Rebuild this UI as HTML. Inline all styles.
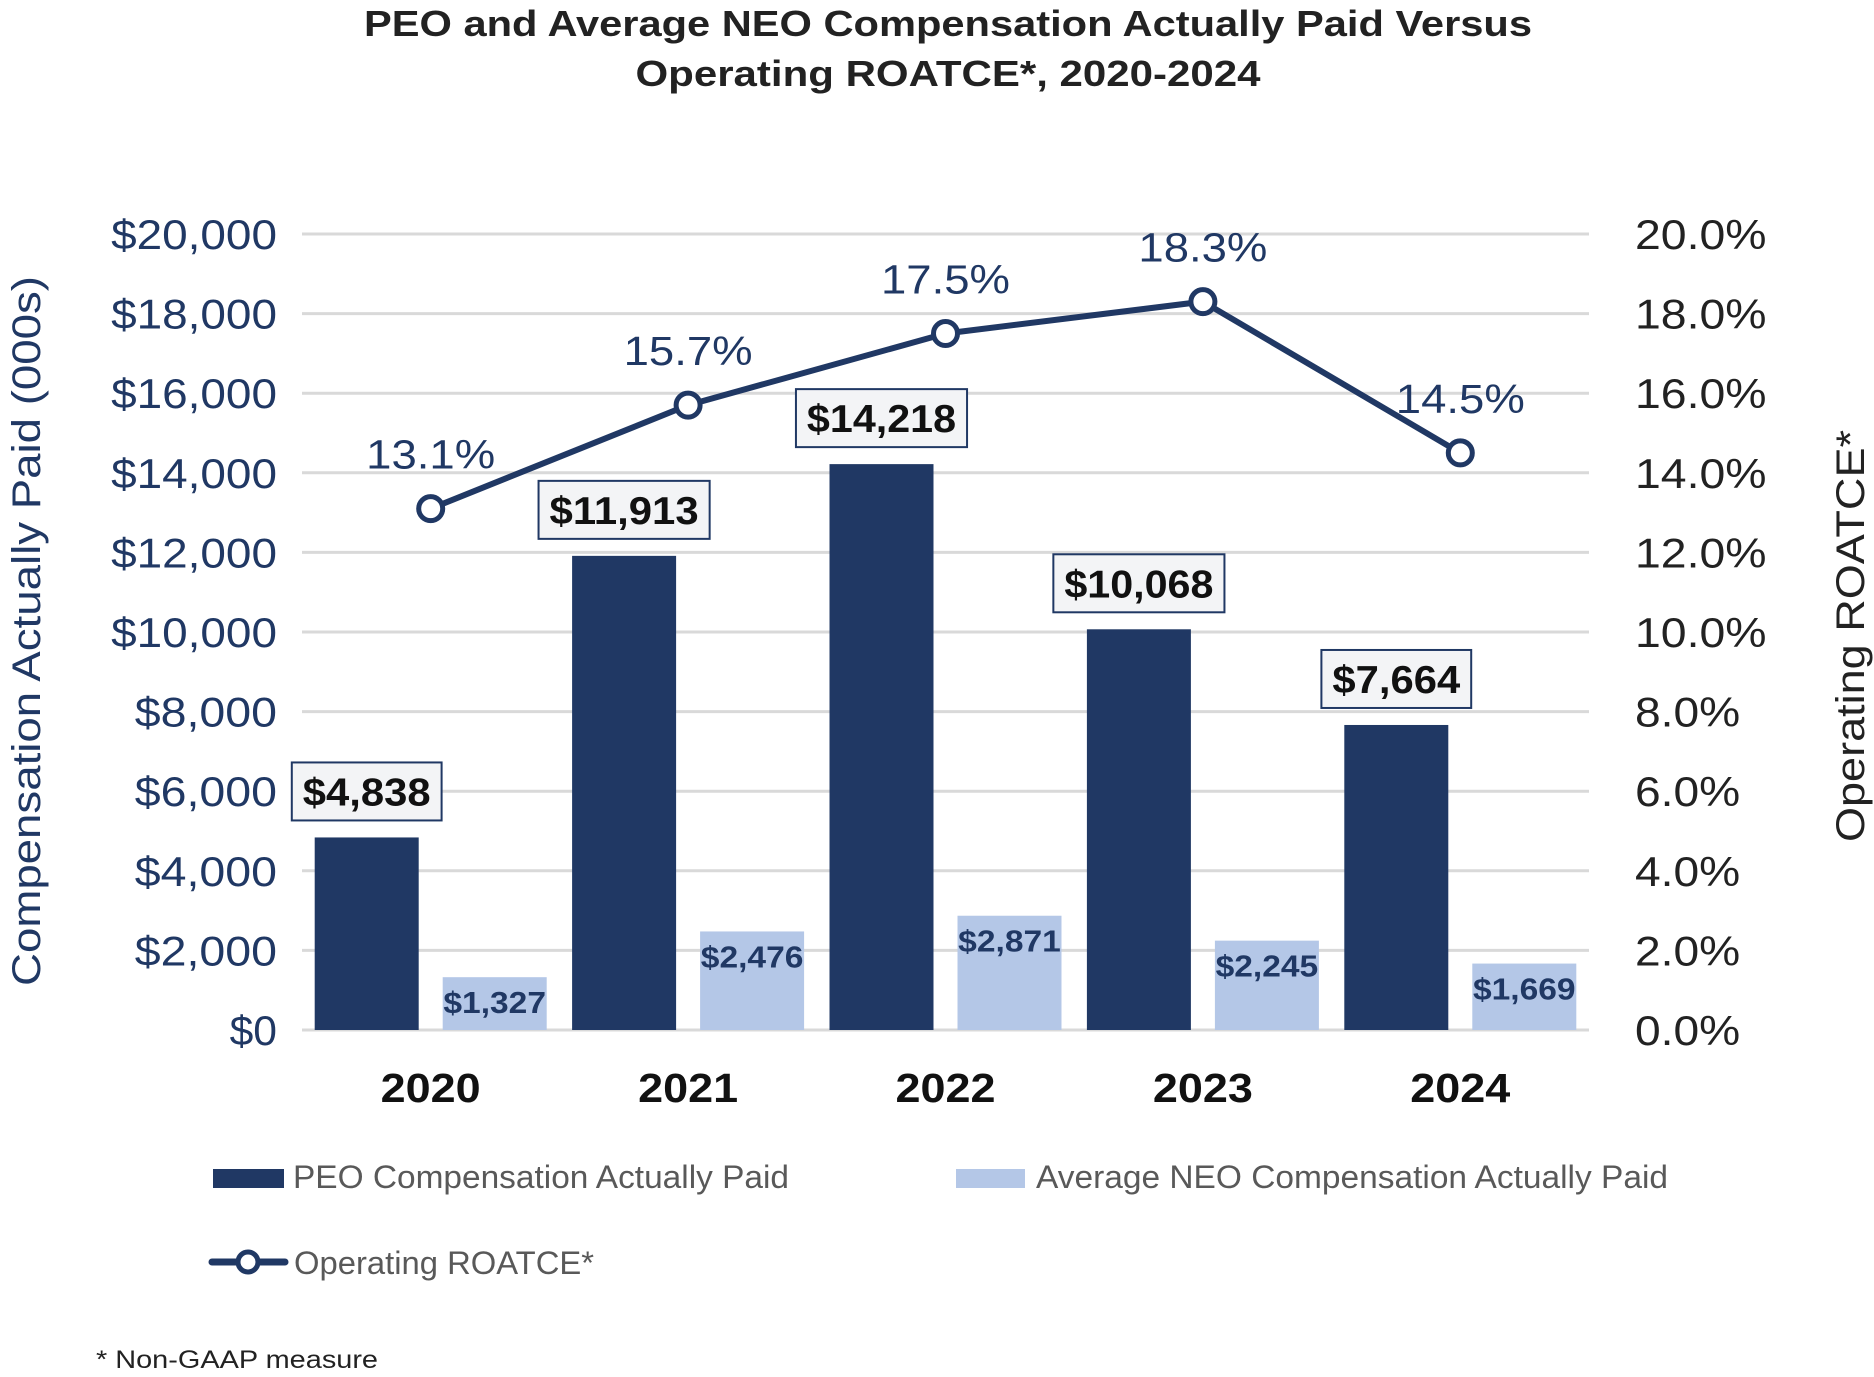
<!DOCTYPE html>
<html><head><meta charset="utf-8"><style>
html,body{margin:0;padding:0;background:#fff;}
svg{display:block;font-family:"Liberation Sans",Arial,sans-serif;}
</style></head><body>
<svg id="chart" width="1874" height="1377" viewBox="0 0 1874 1377" xmlns="http://www.w3.org/2000/svg">
<g>
<text x="948" y="36" text-anchor="middle" font-size="36" font-weight="bold" fill="#222" textLength="1168" lengthAdjust="spacingAndGlyphs">PEO and Average NEO Compensation Actually Paid Versus</text>
<text x="948" y="86" text-anchor="middle" font-size="36" font-weight="bold" fill="#222" textLength="625" lengthAdjust="spacingAndGlyphs">Operating ROATCE*, 2020-2024</text>
</g>
<g id="grid"></g>
<g id="yleft"></g>
<g id="yright"></g>
<g id="bars"></g>
<g id="line"></g>
<g id="xlab"></g>
<text transform="translate(40,631) rotate(-90)" text-anchor="middle" font-size="40" fill="#203864" textLength="710" lengthAdjust="spacingAndGlyphs">Compensation Actually Paid (000s)</text>
<text transform="translate(1864,636) rotate(-90)" text-anchor="middle" font-size="40" fill="#222" textLength="412" lengthAdjust="spacingAndGlyphs">Operating ROATCE*</text>
<g>
<g><rect x="213" y="1169" width="71" height="19" fill="#203864"/><text x="293" y="1188" font-size="32" fill="#595959" textLength="496" lengthAdjust="spacingAndGlyphs">PEO Compensation Actually Paid</text></g>
<g><rect x="956" y="1169" width="69" height="19" fill="#b4c7e7"/><text x="1036" y="1188" font-size="32" fill="#595959" textLength="632" lengthAdjust="spacingAndGlyphs">Average NEO Compensation Actually Paid</text></g>
<g><line x1="212" y1="1262" x2="285" y2="1262" stroke="#203864" stroke-width="7" stroke-linecap="round"/><circle cx="248" cy="1262" r="10" fill="#fff" stroke="#203864" stroke-width="5"/><text x="294" y="1274" font-size="32" fill="#595959" textLength="300" lengthAdjust="spacingAndGlyphs">Operating ROATCE*</text></g>
</g>
<text x="96" y="1368" font-size="25" fill="#222" textLength="282" lengthAdjust="spacingAndGlyphs">* Non-GAAP measure</text>
</svg>
<script>
const categories=["2020","2021","2022","2023","2024"];
const peoValues=[4838,11913,14218,10068,7664];
const neoValues=[1327,2476,2871,2245,1669];
const roatceValues=[13.1,15.7,17.5,18.3,14.5];
const leftTicks=[0,2000,4000,6000,8000,10000,12000,14000,16000,18000,20000];
const rightTicks=[0,2,4,6,8,10,12,14,16,18,20];

const NS="http://www.w3.org/2000/svg";
const X0=302,X1=1589,Y0=1030,Y1=234;
const band=(X1-X0)/categories.length;
const xc=i=>X0+(i+0.5)*band;
const yL=v=>Y0-v/20000*(Y0-Y1);
const yR=v=>Y0-v/20*(Y0-Y1);
const fmt=v=>"$"+v.toLocaleString("en-US");
function mk(tag,attrs,parent,txt){const e=document.createElementNS(NS,tag);for(const k in attrs)e.setAttribute(k,attrs[k]);if(txt!==undefined){e.textContent=txt;}parent.appendChild(e);return e;}
function tl(e,n){e.setAttribute('textLength',n);e.setAttribute('lengthAdjust','spacingAndGlyphs');}
const grid=document.getElementById('grid'),yl=document.getElementById('yleft'),yr=document.getElementById('yright'),bars=document.getElementById('bars'),line=document.getElementById('line'),xl=document.getElementById('xlab');
leftTicks.forEach(t=>{
  const g=mk('line',{x1:X0,x2:X1,y1:yL(t),y2:yL(t),stroke:'#d9d9d9','stroke-width':3},grid);
  
  
  const s=fmt(t);
  const l=mk('text',{x:277,y:yL(t)+15,'text-anchor':'end','font-size':42,fill:'#203864'},yl,s);
  tl(l,s.length*23.7);
  
  
});
rightTicks.forEach(t=>{
  const s=t.toFixed(1)+"%";
  const l=mk('text',{x:1635,y:yR(t)+15,'font-size':42,fill:'#222'},yr,s);
  tl(l,s.length*26.3);
  
  
});
categories.forEach((c,i)=>{
  const cx=xc(i);
  const pb=mk('rect',{x:cx-116,y:yL(peoValues[i]),width:104,height:Y0-yL(peoValues[i]),fill:'#203864'},bars);
  
  
  const nb=mk('rect',{x:cx+12,y:yL(neoValues[i]),width:104,height:Y0-yL(neoValues[i]),fill:'#b4c7e7'},bars);
  
  
  const lbl=fmt(peoValues[i]);
  const w=lbl.length*21.3+22;
  const bt=yL(peoValues[i]);
  const box=mk('rect',{x:cx-64-w/2,y:bt-75,width:w,height:58,fill:'#f3f4f6',stroke:'#203864','stroke-width':2},bars);
  
  
  const pt=mk('text',{x:cx-64,y:bt-32,'text-anchor':'middle','font-size':39,'font-weight':'bold',fill:'#111'},bars,lbl);
  tl(pt,lbl.length*21.3);
  
  
  const ns=fmt(neoValues[i]);
  const nt=mk('text',{x:cx+64,y:yL(neoValues[i])+36,'text-anchor':'middle','font-size':31,'font-weight':'bold',fill:'#203864'},bars,ns);
  tl(nt,ns.length*17.1);
  
  
  const xt=mk('text',{x:cx,y:1102,'text-anchor':'middle','font-size':41,'font-weight':'bold',fill:'#111'},xl,c);
  tl(xt,100);
  
  
});
const pts=roatceValues.map((v,i)=>xc(i)+","+yR(v)).join(" ");
const pl=mk('polyline',{points:pts,fill:'none',stroke:'#203864','stroke-width':6,'stroke-linejoin':'round'},line);


roatceValues.forEach((v,i)=>{
  const c=mk('circle',{cx:xc(i),cy:yR(v),r:12,fill:'#fff',stroke:'#203864','stroke-width':5},line);
  
  
  const s=v.toFixed(1)+"%";
  const t=mk('text',{x:xc(i),y:yR(v)-40,'text-anchor':'middle','font-size':41,fill:'#203864'},line,s);
  tl(t,s.length*25.8);
  
  
});
</script>
</body></html>
